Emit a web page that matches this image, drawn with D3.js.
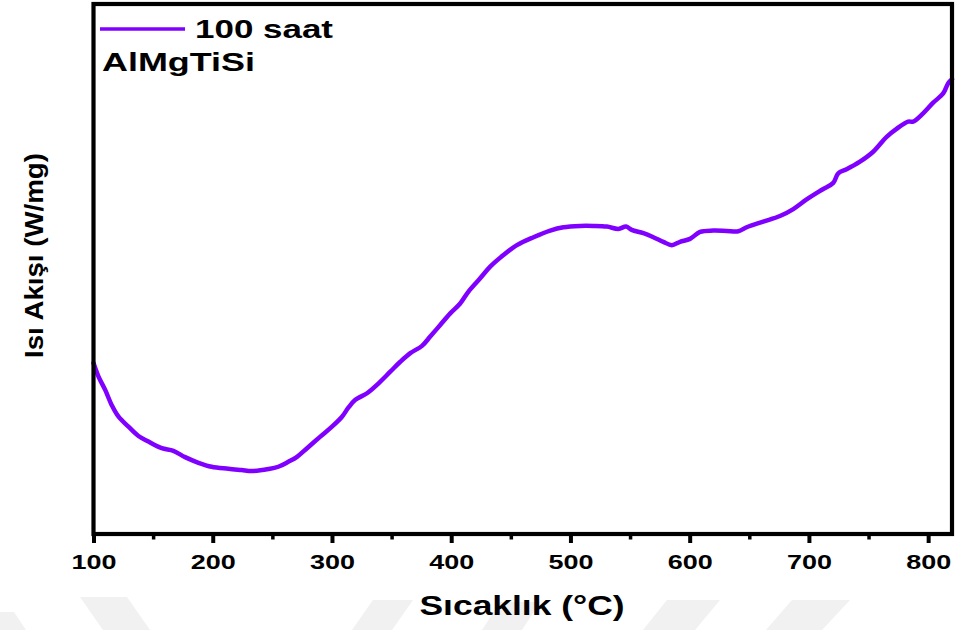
<!DOCTYPE html>
<html>
<head>
<meta charset="utf-8">
<script src="https://cdn.jsdelivr.net/npm/d3@7"></script>
<style>
  html, body { margin: 0; padding: 0; background: #ffffff; }
  svg { display: block; }
  text { font-family: "Liberation Sans", Arial, sans-serif; font-weight: bold; fill: #000; }
</style>
</head>
<body>
<svg id="chart" width="957" height="630"></svg>
<script>
// DSC trace of AlMgTiSi after 100 h: temperature (°C) vs heat flow (W/mg, arbitrary offset)
const temperature = [
  100, 104.2, 109.8, 115.3, 121.0, 129.3, 137.7, 146.1, 157.2, 167.0,
  176.8, 188.0, 199.1, 213.1, 224.3, 232.7, 246.7, 255.0, 263.4, 270.7,
  279.1, 290.2, 300.0, 308.4, 313.9, 319.6, 329.4, 339.1, 348.9, 357.3,
  365.7, 375.5, 382.4, 390.8, 399.2, 407.5, 414.5, 424.3, 432.7, 443.8,
  455.1, 469.0, 483.0, 494.1, 508.1, 519.3, 530.5, 540.2, 546.7, 551.4,
  561.2, 569.5, 577.9, 585.0, 591.9, 600.3, 608.7, 619.8, 631.0, 640.8,
  647.8, 661.7, 675.7, 686.9, 698.1, 711.3, 720.4, 724.6, 731.6, 742.8,
  753.9, 765.2, 773.5, 783.2, 787.4, 795.8, 804.2, 812.6, 816.8, 820.0
];
const heatFlow = [
  -0.484, -0.525, -0.565, -0.611, -0.646, -0.676, -0.704, -0.721, -0.741, -0.749,
  -0.768, -0.785, -0.797, -0.803, -0.807, -0.810, -0.804, -0.797, -0.782, -0.767,
  -0.741, -0.706, -0.676, -0.646, -0.618, -0.595, -0.575, -0.545, -0.510, -0.480,
  -0.454, -0.432, -0.404, -0.369, -0.334, -0.304, -0.268, -0.228, -0.193, -0.158,
  -0.128, -0.104, -0.084, -0.074, -0.070, -0.070, -0.072, -0.079, -0.072, -0.082,
  -0.092, -0.104, -0.118, -0.128, -0.118, -0.109, -0.088, -0.084, -0.085, -0.086,
  -0.074, -0.057, -0.040, -0.019, 0.010, 0.040, 0.060, 0.089, 0.101, 0.124,
  0.154, 0.199, 0.223, 0.245, 0.245, 0.270, 0.302, 0.330, 0.361, 0.373
];
const majorTicks = [100, 200, 300, 400, 500, 600, 700, 800];
const minorTicks = [150, 250, 350, 450, 550, 650, 750];
const seriesName = "100 saat";
const sampleName = "AlMgTiSi";
const xTitle = "Sıcaklık (°C)";
const yTitle = "Isı Akışı (W/mg)";

const svg = d3.select("#chart");
const plot = { left: 93.5, right: 952, top: 4, bottom: 534 };

const x = d3.scaleLinear().domain([100, 820]).range([plot.left, plot.right]);
const y = d3.scaleLinear().domain([-1.0, 0.6]).range([plot.bottom, plot.top]);

// faint background emblem fragments along the bottom edge
const emblem = [
  [[80, 597], [127, 597], [150, 630], [103, 630]],
  [[0, 612], [14, 612], [26, 630], [0, 630]],
  [[373, 600], [413, 600], [392, 630], [352, 630]],
  [[500, 602], [540, 602], [522, 630], [482, 630]],
  [[667, 600], [720, 600], [695, 630], [643, 630]],
  [[792, 600], [850, 600], [822, 630], [766, 630]]
];
svg.append("g").selectAll("polygon").data(emblem).join("polygon")
  .attr("points", d => d.map(p => p.join(",")).join(" "))
  .attr("fill", "#f1f1f1");

// data line
const data = temperature.map((t, i) => ({ t, v: heatFlow[i] }));
const line = d3.line().x(d => x(d.t)).y(d => y(d.v)).curve(d3.curveCatmullRom.alpha(0.5));
svg.append("path")
  .datum(data)
  .attr("d", line)
  .attr("fill", "none")
  .attr("stroke", "#8000ff")
  .attr("stroke-width", 4.5)
  .attr("stroke-linejoin", "round")
  .attr("stroke-linecap", "round");

// bottom axis: major and minor ticks
const xAxis = d3.axisBottom(x).tickValues(majorTicks).tickSize(9).tickPadding(11).tickSizeOuter(0);
const gx = svg.append("g").attr("transform", `translate(0,${plot.bottom})`).call(xAxis);
gx.select(".domain").remove();
gx.selectAll(".tick line").attr("stroke", "#000").attr("stroke-width", 4);
gx.selectAll(".tick text")
  .attr("font-size", 21)
  .attr("font-family", "'Liberation Sans', Arial, sans-serif")
  .attr("font-weight", "bold")
  .attr("textLength", 45)
  .attr("lengthAdjust", "spacingAndGlyphs");

const xMinor = d3.axisBottom(x).tickValues(minorTicks).tickSize(5.5).tickFormat("").tickSizeOuter(0);
const gxm = svg.append("g").attr("transform", `translate(0,${plot.bottom})`).call(xMinor);
gxm.select(".domain").remove();
gxm.selectAll(".tick line").attr("stroke", "#000").attr("stroke-width", 3.5);

// frame
svg.append("rect")
  .attr("x", plot.left).attr("y", plot.top)
  .attr("width", plot.right - plot.left).attr("height", plot.bottom - plot.top)
  .attr("fill", "none").attr("stroke", "#000").attr("stroke-width", 4.2);

// axis titles
svg.append("text")
  .attr("x", 522).attr("y", 615)
  .attr("text-anchor", "middle")
  .attr("font-size", 27)
  .attr("textLength", 205)
  .attr("lengthAdjust", "spacingAndGlyphs")
  .text(xTitle);

svg.append("text")
  .attr("transform", "translate(42.5,255.5) rotate(-90)")
  .attr("text-anchor", "middle")
  .attr("font-size", 26)
  .attr("textLength", 205)
  .attr("lengthAdjust", "spacingAndGlyphs")
  .text(yTitle);

// legend
svg.append("line")
  .attr("x1", 100).attr("x2", 185).attr("y1", 29).attr("y2", 29)
  .attr("stroke", "#8000ff").attr("stroke-width", 3.6);
svg.append("text")
  .attr("x", 195).attr("y", 37.5)
  .attr("font-size", 26)
  .attr("textLength", 138)
  .attr("lengthAdjust", "spacingAndGlyphs")
  .text(seriesName);
svg.append("text")
  .attr("x", 102).attr("y", 71)
  .attr("font-size", 25)
  .attr("textLength", 153)
  .attr("lengthAdjust", "spacingAndGlyphs")
  .text(sampleName);
</script>
</body>
</html>
